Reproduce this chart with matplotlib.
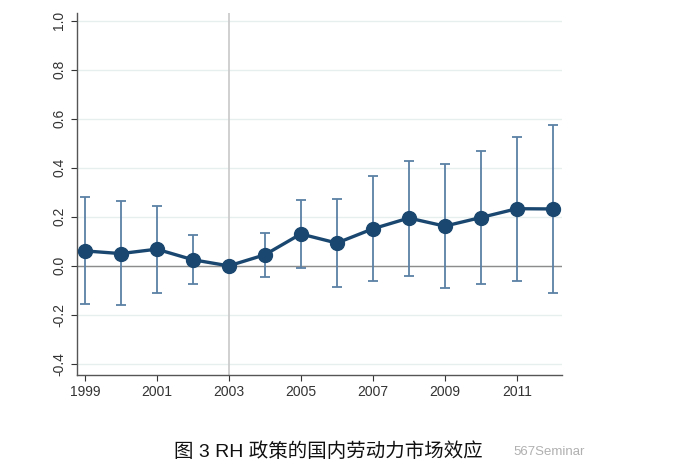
import numpy as np
import matplotlib.pyplot as plt

years = [1999, 2000, 2001, 2002, 2003, 2004, 2005, 2006, 2007, 2008, 2009, 2010, 2011, 2012]
coef = [0.061, 0.050, 0.068, 0.025, 0.0, 0.045, 0.130, 0.093, 0.151, 0.195, 0.162, 0.197, 0.233, 0.232]
ci_hi = [0.280, 0.265, 0.245, 0.125, 0.0, 0.135, 0.267, 0.273, 0.365, 0.427, 0.416, 0.468, 0.527, 0.575]
ci_lo = [-0.155, -0.160, -0.110, -0.075, 0.0, -0.045, -0.008, -0.087, -0.063, -0.041, -0.090, -0.072, -0.060, -0.109]
xticks = [1999, 2001, 2003, 2005, 2007, 2009, 2011]
yticks = [-0.4, -0.2, 0.0, 0.2, 0.4, 0.6, 0.8, 1.0]
caption = "图 3 RH 政策的国内劳动力市场效应"

plt.rcParams['font.family'] = ['Liberation Sans', 'Noto Sans CJK SC', 'DejaVu Sans']

fig = plt.figure(figsize=(6.86, 4.72), dpi=100)
ax = fig.add_axes([0.112, 0.2055, 0.707, 0.7665])

for y in yticks:
    ax.axhline(y, color='#e6eeee', lw=1.0, zorder=0)
ax.axhline(0, color='#8c8c8c', lw=1.0, zorder=1)
ax.axvline(2003, color='#c8c8c8', lw=1.2, zorder=1)

c = np.array(coef)
yerr = [c - np.array(ci_lo), np.array(ci_hi) - c]
ax.errorbar(years, coef, yerr=yerr, fmt='none', ecolor='#5b80a5', elinewidth=1.3,
            capsize=3.5, capthick=1.3, zorder=2)
ax.plot(years, coef, color='#1a476f', lw=2.4, marker='o', markersize=10, zorder=3)

ax.set_xlim(1998.78, 2012.25)
ax.set_ylim(-0.445, 1.03)
ax.set_xticks(xticks)
ax.set_yticks(yticks)
ax.set_yticklabels(['%.1f' % v for v in yticks], rotation=90, va='center')
ax.tick_params(labelsize=10, colors='#333333', length=4, width=0.8)
for s in ['top', 'right']:
    ax.spines[s].set_visible(False)
for s in ['left', 'bottom']:
    ax.spines[s].set_color('#555555')
    ax.spines[s].set_linewidth(1.0)

fig.text(0.478, 0.043, caption, ha='center', va='center', fontsize=14, color='#111111')
fig.text(0.748, 0.043, '567Seminar', ha='left', va='center', fontsize=9.5, color='#b0b0b0')

fig.savefig('out.png', dpi=100)
